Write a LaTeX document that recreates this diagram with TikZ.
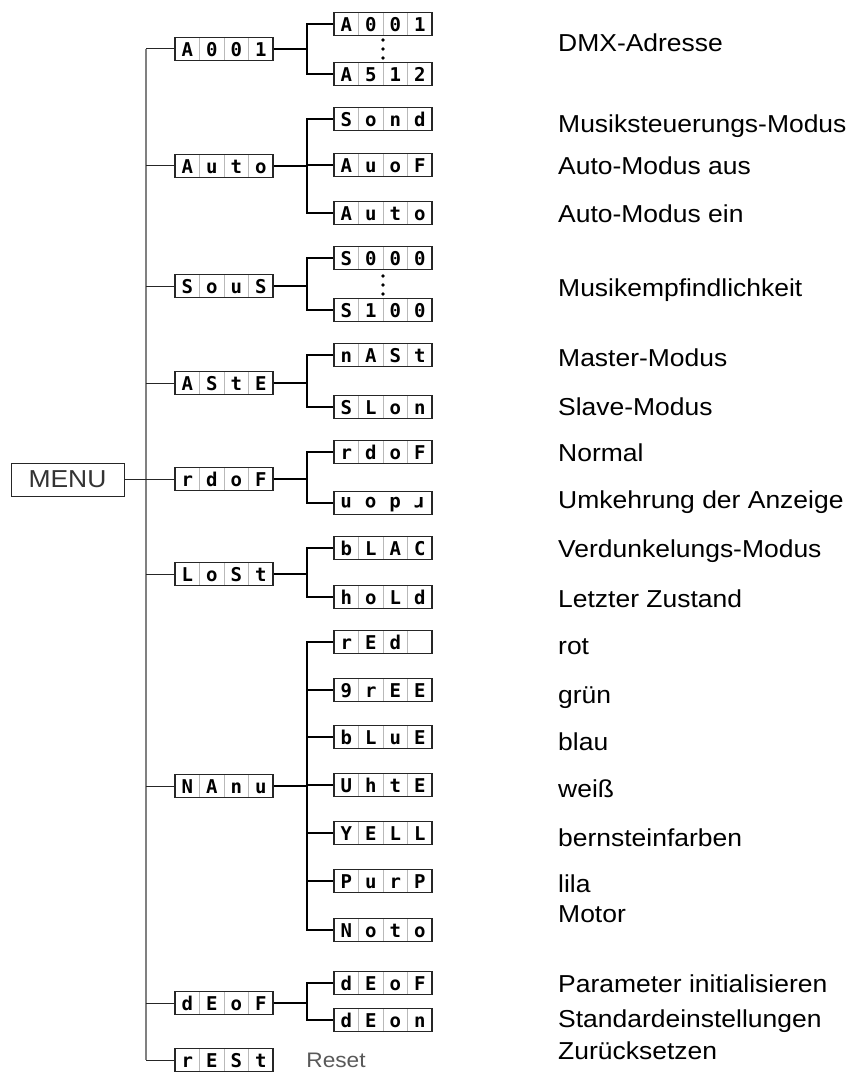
\documentclass[tikz,border=0pt]{standalone}
\usepackage{fontspec}
\setmainfont[FakeStretch=1.08]{Liberation Sans}
\newfontfamily\dispfont{DejaVu Sans Mono}
\newcommand{\cells}[4]{\makebox[24.5pt]{#1}\makebox[24.5pt]{#2}\makebox[24.5pt]{#3}\makebox[24.5pt]{#4}}

\begin{document}
\begin{tikzpicture}[x=1pt, y=-1pt,
	disp/.style={draw=black!85, line width=1.4pt, fill=white, inner sep=0pt,
		minimum width=98pt, minimum height=23pt, text height=14.5pt, text depth=0pt,
		font=\dispfont\bfseries\fontsize{19}{19}\selectfont,
		path picture={\foreach \k in {1,2,3}
			\draw[gray!55, line width=0.9pt] ([xshift=\k*24.5pt]path picture bounding box.north west)
			-- ([xshift=\k*24.5pt]path picture bounding box.south west);}},
	menubox/.style={draw=black!85, line width=0.9pt, minimum width=113pt, minimum height=33pt,
		inner sep=0pt, font=\fontsize{24.5}{26}\selectfont, text=black!80},
	note/.style={anchor=base west, inner sep=0pt, font=\fontsize{24.5}{26}\selectfont},
	trunk/.style={draw=black!50, line width=1.8pt},
	twig/.style={draw=black!85, line width=1pt},
	fork/.style={draw=black, line width=2.6pt}]
	\useasboundingbox (0,0) rectangle (852,1075);
	% menu and first level
	\path (67.5,479.5) node(menu)[menubox]{MENU}
		(224,49) node(a001)[disp]{\cells A001}
		(224,166) node(auto)[disp]{\cells Auto}
		(224,286) node(sous)[disp]{\cells SouS}
		(224,383) node(aste)[disp]{\cells AStE}
		(224,479) node(rdof)[disp]{\cells rdoF}
		(224,574) node(lost)[disp]{\cells LoSt}
		(224,786) node(nanu)[disp]{\cells NAnu}
		(224,1003) node(deof)[disp]{\cells dEoF}
		(224,1060) node(rest)[disp]{\cells rESt}
		(336,1060) node(rlbl)[font=\fontsize{21}{22}\selectfont, text=black!65]{Reset};
	% second level
	\path (383,24) node(addr)[disp]{\cells A001}
		(383,74) node(a512)[disp]{\cells A512}
		(383,119) node(sond)[disp]{\cells Sond}
		(383,165) node(auof)[disp]{\cells AuoF}
		(383,213) node(auon)[disp]{\cells Auto}
		(383,258) node(s000)[disp]{\cells S000}
		(383,310) node(s100)[disp]{\cells S100}
		(383,355) node(nast)[disp]{\cells nASt}
		(383,407) node(slon)[disp]{\cells SLon}
		(383,452) node(norm)[disp]{\cells rdoF}
		(383,503) node(rdon)[disp, rotate=180, text height=10.5pt]{\cells rdon}
		(383,548) node(blac)[disp]{\cells bLAC}
		(383,597) node(hold)[disp]{\cells hoLd}
		(383,642) node(red)[disp]{\cells rEd{}}
		(383,690) node(gree)[disp]{\cells 9rEE}
		(383,737) node(blue)[disp]{\cells bLuE}
		(383,785) node(whte)[disp]{\cells UhtE}
		(383,833) node(yell)[disp]{\cells YELL}
		(383,881) node(purp)[disp]{\cells PurP}
		(383,930) node(noto)[disp]{\cells Noto}
		(383,983) node(dfof)[disp]{\cells dEoF}
		(383,1020) node(dfon)[disp]{\cells dEon};
	\foreach \d in {40,49,58,276,285,294}
		\fill (383,\d) circle (1.8);
	% connectors
	\coordinate (tk) at (146,0);
	\coordinate (fk) at (307,0);
	\draw[trunk] (tk |- a001.west) -- (tk |- rest.west);
	\draw[twig] (menu.east) -- (tk |- menu.east);
	\foreach \n in {a001,auto,sous,aste,rdof,lost,nanu,deof,rest}
		\draw[twig] (tk |- \n.west) -- (\n.west);
	\foreach \p/\a/\b in {a001/addr/a512, auto/sond/auon, sous/s000/s100, aste/nast/slon,
			lost/blac/hold, nanu/red/noto, deof/dfof/dfon}{
		\draw[fork] (\p.east) -- (fk |- \p.east);
		\draw[fork] (\a.west) -| (fk |- \b.west) -- (\b.west);
	}
	% rdon is turned round, so its east side faces the fork
	\draw[fork] (rdof.east) -- (fk |- rdof.east);
	\draw[fork] (norm.west) -| (fk |- rdon.east) -- (rdon.east);
	\foreach \c in {auof,gree,blue,whte,yell,purp}
		\draw[fork] (fk |- \c.west) -- (\c.west);
	% descriptions
	\foreach \y/\t [count=\i] in {52/DMX-Adresse, 133/Musiksteuerungs-Modus, 175/Auto-Modus aus,
			223/Auto-Modus ein, 296/Musikempfindlichkeit, 366/Master-Modus, 415/Slave-Modus,
			461/Normal, 508/Umkehrung der Anzeige, 557/Verdunkelungs-Modus, 607/Letzter Zustand,
			654/rot, 703/grün, 750/blau, 797/weiß, 846/bernsteinfarben, 892/lila, 922/Motor,
			992/Parameter initialisieren, 1027/Standardeinstellungen, 1059/Zurücksetzen}
		\node[note] (txt\i) at (558,\y) {\t};
\end{tikzpicture}
\end{document}
